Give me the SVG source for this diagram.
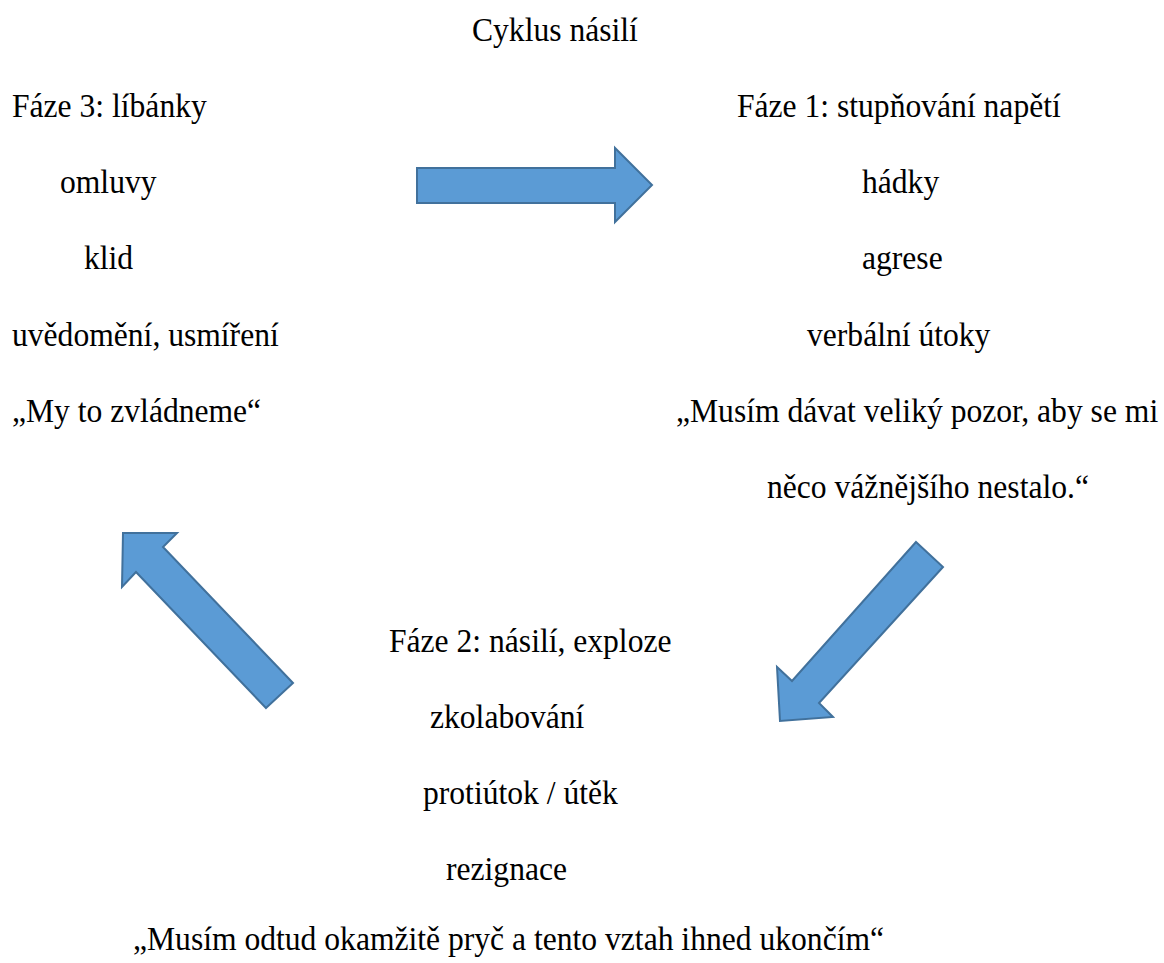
<svg xmlns="http://www.w3.org/2000/svg" width="1164" height="963" viewBox="0 0 1164 963">
<style>
text{font-family:"Liberation Serif","Times New Roman",serif;font-size:31.6px;fill:#000}
.arrow{fill:#5B9BD5;stroke:#41719C;stroke-width:2;stroke-linejoin:miter}
</style>
<rect width="1164" height="963" fill="#fff"/>
<g id="title"><text x="472" y="0" transform="translate(0,41) scale(1,1.07)">Cyklus násilí</text></g>
<g id="phase3">
<text x="12" y="0" transform="translate(0,117) scale(1,1.07)">Fáze 3: líbánky</text>
<text x="60" y="0" transform="translate(0,193) scale(1,1.07)">omluvy</text>
<text x="84" y="0" transform="translate(0,269) scale(1,1.07)">klid</text>
<text x="12" y="0" transform="translate(0,346) scale(1,1.07)">uvědomění, usmíření</text>
<text x="12" y="0" transform="translate(0,422) scale(1,1.07)">„My to zvládneme“</text>
</g>
<g id="phase1">
<text x="737" y="0" transform="translate(0,117) scale(1,1.07)">Fáze 1: stupňování napětí</text>
<text x="862" y="0" transform="translate(0,193) scale(1,1.07)">hádky</text>
<text x="862" y="0" transform="translate(0,269) scale(1,1.07)">agrese</text>
<text x="807" y="0" transform="translate(0,346) scale(1,1.07)">verbální útoky</text>
<text x="676" y="0" transform="translate(0,422) scale(1,1.07)">„Musím dávat veliký pozor, aby se mi</text>
<text x="767" y="0" transform="translate(0,498) scale(1,1.07)">něco vážnějšího nestalo.“</text>
</g>
<g id="phase2">
<text x="389" y="0" transform="translate(0,652) scale(1,1.07)">Fáze 2: násilí, exploze</text>
<text x="430" y="0" transform="translate(0,728) scale(1,1.07)">zkolabování</text>
<text x="423" y="0" transform="translate(0,804) scale(1,1.07)">protiútok / útěk</text>
<text x="446" y="0" transform="translate(0,880) scale(1,1.07)">rezignace</text>
<text x="133" y="0" transform="translate(0,950) scale(1,1.07)">„Musím odtud okamžitě pryč a tento vztah ihned ukončím“</text>
</g>
<g id="connectors">
<polygon class="arrow" points="417,168 615,168 615,148 652,185 615,222 615,203 417,203"/>
<polygon class="arrow" points="916,542 943,567 819,703 833,717 780,721 777,667 792,681"/>
<polygon class="arrow" points="266,708 293,683 163,547 177,533 123,533 122,587 136,572"/>
</g>
</svg>
